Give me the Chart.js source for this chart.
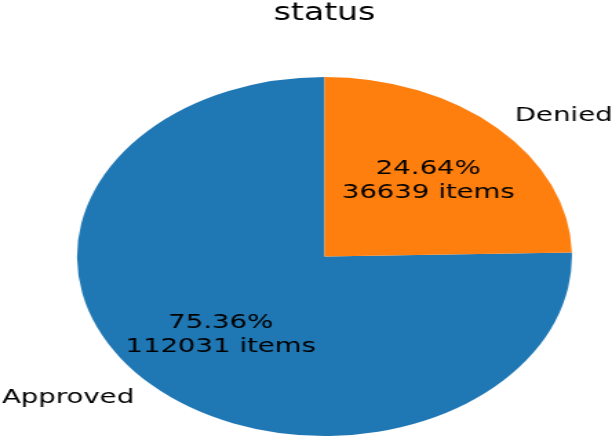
<!DOCTYPE html>
<html>
<head>
<meta charset="utf-8">
<script src="https://cdn.jsdelivr.net/npm/chart.js@4.4.0/dist/chart.umd.min.js"></script>
<style>
  html, body { margin: 0; padding: 0; background: #fff; overflow: hidden; }
  #wrap { position: absolute; left: 0; top: 0; width: 444px; height: 438px;
          transform: scale(1.3784, 1); transform-origin: 0 0; }
</style>
</head>
<body>
<div id="wrap"><canvas id="c"></canvas></div>
<script>
const title = "status";
const categories = ["Approved", "Denied"];
const counts = [112031, 36639];
const colors = ["#1f77b4", "#ff7f0e"];

const total = counts.reduce((a, b) => a + b, 0);
const FONT = "DejaVu Sans";

const labelPlugin = {
  id: "pieLabels",
  afterDraw(chart) {
    const ctx = chart.ctx;
    const meta = chart.getDatasetMeta(0);
    ctx.save();
    ctx.fillStyle = "#000";
    // title
    const cx0 = meta.data[0].x;
    ctx.font = "24px '" + FONT + "'";
    ctx.textAlign = "center";
    ctx.textBaseline = "alphabetic";
    ctx.fillText(title, cx0, 20);
    meta.data.forEach((arc, i) => {
      const mid = (arc.startAngle + arc.endAngle) / 2;
      const R = arc.outerRadius;
      const c = Math.cos(mid), s = Math.sin(mid);
      // inner text
      const ix = arc.x + 0.6 * R * c;
      const iy = arc.y + 0.6 * R * s;
      ctx.font = "20px '" + FONT + "'";
      ctx.textAlign = "center";
      const pct = (counts[i] / total * 100).toFixed(2) + "%";
      ctx.fillText(pct, ix, iy - 5.5);
      ctx.fillText(counts[i] + " items", ix, iy + 18.5);
      // outer label
      const ox = arc.x + 1.1 * R * c;
      const oy = arc.y + 1.1 * R * s;
      ctx.textAlign = c >= 0 ? "left" : "right";
      ctx.fillText(categories[i], ox, oy + 5.6);
    });
    ctx.restore();
  }
};

new Chart(document.getElementById("c"), {
  type: "pie",
  data: {
    labels: categories,
    datasets: [{
      data: counts,
      backgroundColor: colors,
      borderWidth: 0,
      hoverBorderWidth: 0,
      offset: 0,
      hoverOffset: 0
    }]
  },
  options: {
    responsive: true,
    maintainAspectRatio: false,
    animation: false,
    events: [],
    rotation: 360 * counts[1] / total,
    layout: { padding: { left: 55.9, right: 29.1, top: 77, bottom: 2 } },
    plugins: { legend: { display: false }, tooltip: { enabled: false }, title: { display: false } }
  },
  plugins: [labelPlugin]
});
</script>
</body>
</html>
